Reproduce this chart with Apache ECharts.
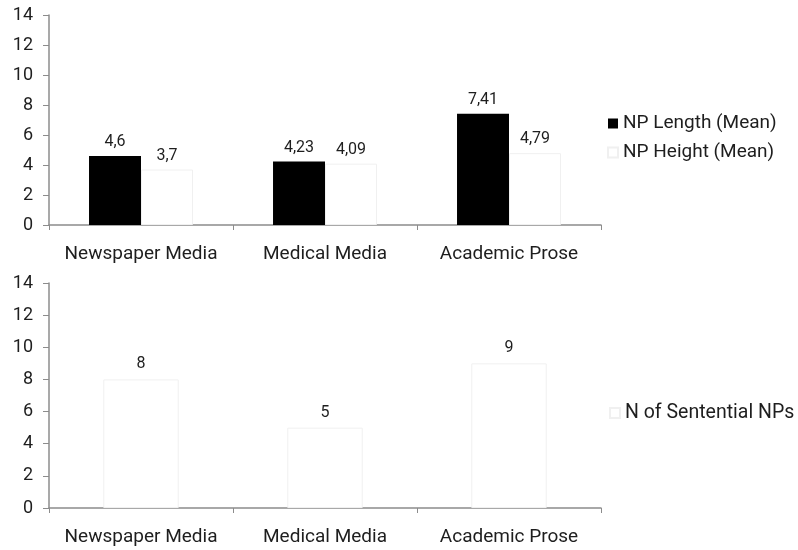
<!DOCTYPE html>
<html>
<head>
<meta charset="utf-8">
<script src="https://cdn.jsdelivr.net/npm/echarts@6/dist/echarts.min.js"></script>
<style>
  html, body { margin: 0; padding: 0; background: #fff; }
  #chart { width: 798px; height: 550px; }
</style>
</head>
<body>
<div id="chart"></div>
<script>
// Corpus categories shared by both panels
const categories = ['Newspaper Media', 'Medical Media', 'Academic Prose'];

// Upper panel: mean noun-phrase measures
const npLengthMean = [4.6, 4.23, 7.41];
const npHeightMean = [3.7, 4.09, 4.79];

// Lower panel: count of sentential NPs
const sententialNPs = [8, 5, 9];

// Value axis ticks (both panels)
const yTicks = [0, 2, 4, 6, 8, 10, 12, 14];

const FONT = 'Roboto';
const TEXT = '#1e1e1e';
const AXIS = '#8c8c8c';

const fmt = p => String(p.value).replace('.', ',');

function xAxis(gridIndex) {
  return {
    type: 'category', gridIndex, data: categories,
    axisLine: { lineStyle: { color: AXIS, width: 1.5 } },
    axisTick: { show: true, length: 5, lineStyle: { color: AXIS } },
    axisLabel: { interval: 0, color: TEXT, fontFamily: FONT, fontSize: 19, margin: 20 },
    splitLine: { show: false }
  };
}
function yAxis(gridIndex) {
  return {
    type: 'value', gridIndex,
    min: yTicks[0], max: yTicks[yTicks.length - 1], interval: 2,
    axisLine: { show: true, lineStyle: { color: AXIS, width: 1.5 } },
    axisTick: { show: true, length: 6, lineStyle: { color: AXIS } },
    axisLabel: { color: TEXT, fontFamily: FONT, fontSize: 18, margin: 16 },
    splitLine: { show: false }
  };
}

const chart = echarts.init(document.getElementById('chart'), null, { renderer: 'canvas' });
chart.setOption({
  animation: false,
  backgroundColor: '#fff',
  grid: [
    { left: 49, top: 15, width: 552, height: 210 },
    { left: 49, top: 283, width: 552, height: 225 }
  ],
  xAxis: [xAxis(0), xAxis(1)],
  yAxis: [yAxis(0), yAxis(1)],
  legend: [
    {
      left: 602, top: 109, orient: 'vertical', itemGap: 10,
      itemWidth: 10, itemHeight: 10, icon: 'rect',
      textStyle: { color: TEXT, fontFamily: FONT, fontSize: 19 },
      data: ['NP Length (Mean)', 'NP Height (Mean)']
    },
    {
      left: 604, top: 398, orient: 'vertical',
      itemWidth: 10, itemHeight: 10, icon: 'rect',
      textStyle: { color: TEXT, fontFamily: FONT, fontSize: 19.5 },
      data: ['N of Sentential NPs']
    }
  ],
  series: [
    {
      name: 'NP Length (Mean)', type: 'bar', xAxisIndex: 0, yAxisIndex: 0,
      data: npLengthMean, barGap: '0%', barCategoryGap: '43.5%',
      itemStyle: { color: '#000' },
      label: { show: true, position: 'top', distance: 6, formatter: fmt,
               color: TEXT, fontFamily: FONT, fontSize: 16 }
    },
    {
      name: 'NP Height (Mean)', type: 'bar', xAxisIndex: 0, yAxisIndex: 0,
      data: npHeightMean, barGap: '0%', barCategoryGap: '43.5%',
      itemStyle: { color: '#fff', borderColor: '#f0f0f0', borderWidth: 1 },
      label: { show: true, position: 'top', distance: 6, formatter: fmt,
               color: TEXT, fontFamily: FONT, fontSize: 16 }
    },
    {
      name: 'N of Sentential NPs', type: 'bar', xAxisIndex: 1, yAxisIndex: 1,
      data: sententialNPs, barCategoryGap: '59%',
      itemStyle: { color: '#fff', borderColor: '#f0f0f0', borderWidth: 1 },
      label: { show: true, position: 'top', distance: 7, formatter: fmt,
               color: TEXT, fontFamily: FONT, fontSize: 16 }
    }
  ]
});
</script>
</body>
</html>
